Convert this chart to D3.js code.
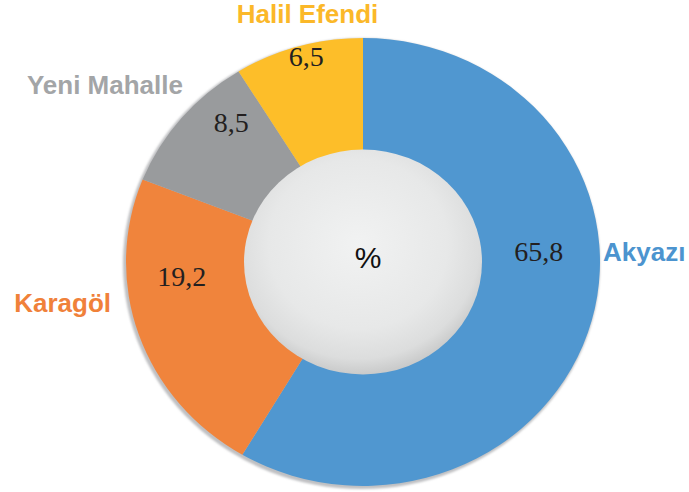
<!DOCTYPE html>
<html>
<head>
<meta charset="utf-8">
<script src="https://cdn.jsdelivr.net/npm/d3@7"></script>
<style>
  body { margin: 0; background: #fff; }
  svg { display: block; }
</style>
</head>
<body>
<div id="chart"></div>
<script>
// data
const categories = ["Akyazı", "Karagöl", "Yeni Mahalle", "Halil Efendi"];
const values = [65.8, 19.2, 8.5, 6.5];
// share of the circle each slice actually takes in the source drawing (%)
const drawnShares = [58.5, 22.5, 10.2, 8.8];
const centerLabel = "%";

const sliceColors = ["#5097d0", "#f0843c", "#999b9d", "#fdbe29"];
const nameColors = ["#4c94cf", "#f0813a", "#a3a5a7", "#fbb829"];

// label placement: [angle in degrees clockwise from top, radius]
const valueSpots = [[86.6, 176], [265, 182], [318.3, 198], [345.3, 224]];

const width = 689, height = 492;
const cx = 363, cy = 262;
const outerR = 237, innerR = 119, squash = 0.945;

const svg = d3.select("#chart").append("svg")
    .attr("width", width)
    .attr("height", height);

const defs = svg.append("defs");

const grad = defs.append("radialGradient")
    .attr("id", "hole")
    .attr("cx", "48%").attr("cy", "42%").attr("r", "58%");
grad.append("stop").attr("offset", "0%").attr("stop-color", "#f1f2f2");
grad.append("stop").attr("offset", "65%").attr("stop-color", "#e7e8e8");
grad.append("stop").attr("offset", "88%").attr("stop-color", "#dcdddd");
grad.append("stop").attr("offset", "100%").attr("stop-color", "#c9caca");

defs.append("filter").attr("id", "soft")
    .append("feGaussianBlur").attr("stdDeviation", 0.9);

const g = svg.append("g")
    .attr("transform", `translate(${cx},${cy}) scale(1,${squash})`);

// thin grey rim behind the ring
g.append("circle")
    .attr("cx", -1.5).attr("cy", 1.8)
    .attr("r", outerR + 1.5)
    .attr("fill", "#bfc0c2")
    .attr("filter", "url(#soft)");

const pie = d3.pie().sort(null).value(d => d.share);
const arc = d3.arc().innerRadius(innerR - 2).outerRadius(outerR);

const rows = categories.map((c, i) => ({
    name: c, value: values[i], share: drawnShares[i], i: i
}));

g.selectAll("path.slice")
    .data(pie(rows))
    .enter().append("path")
    .attr("class", "slice")
    .attr("d", arc)
    .attr("fill", d => sliceColors[d.data.i]);

// hole
g.append("circle")
    .attr("r", innerR)
    .attr("fill", "url(#hole)");

// value labels (not squashed)
const spot = (deg, r) => {
    const a = deg * Math.PI / 180;
    return [cx + r * Math.sin(a), cy - r * Math.cos(a) * squash];
};

const fmt = v => d3.format(".1f")(v).replace(".", ",");

svg.selectAll("text.val")
    .data(rows)
    .enter().append("text")
    .attr("class", "val")
    .attr("x", d => spot(...valueSpots[d.i])[0])
    .attr("y", d => spot(...valueSpots[d.i])[1])
    .attr("dy", "0.33em")
    .attr("text-anchor", "middle")
    .attr("font-family", "'Liberation Serif', 'Times New Roman', serif")
    .attr("font-size", 28)
    .attr("fill", "#231f20")
    .text(d => fmt(d.value));

svg.append("text")
    .attr("x", cx + 5)
    .attr("y", cy - 5)
    .attr("dy", "0.36em")
    .attr("text-anchor", "middle")
    .attr("font-family", "'Liberation Sans', Arial, sans-serif")
    .attr("font-size", 30)
    .attr("fill", "#111")
    .text(centerLabel);

// category names
const nameSpots = [
    { x: cx + outerR + 3, y: cy - 1, anchor: "start" },
    { x: cx - outerR - 15, y: cy + 50, anchor: "end" },
    { x: 183, y: 94, anchor: "end" },
    { x: 307.5, y: 23, anchor: "middle" }
];

svg.selectAll("text.name")
    .data(rows)
    .enter().append("text")
    .attr("class", "name")
    .attr("x", d => nameSpots[d.i].x)
    .attr("y", d => nameSpots[d.i].y)
    .attr("text-anchor", d => nameSpots[d.i].anchor)
    .attr("font-family", "'Liberation Sans', Arial, sans-serif")
    .attr("font-weight", "bold")
    .attr("font-size", 26)
    .attr("fill", d => nameColors[d.i])
    .text(d => d.name);
</script>
</body>
</html>
